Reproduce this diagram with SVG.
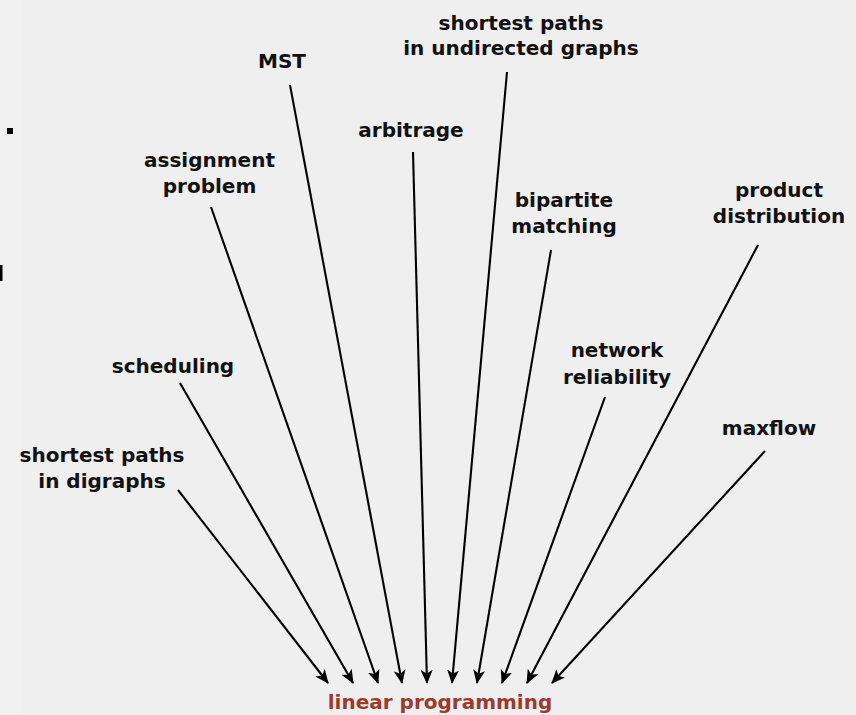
<svg xmlns="http://www.w3.org/2000/svg" width="856" height="715" viewBox="0 0 856 715">
<defs>
<style>
.lbl{font-family:"DejaVu Sans","Liberation Sans",sans-serif;font-weight:bold;font-size:20px;fill:#111;text-anchor:middle}
.lp{font-family:"DejaVu Sans","Liberation Sans",sans-serif;font-weight:bold;font-size:20px;fill:#a0392b;text-anchor:middle}
.edge{stroke:#000;stroke-width:2.1;fill:none;marker-end:url(#ah)}
</style>
<marker id="ah" markerUnits="userSpaceOnUse" viewBox="0 0 14 12" refX="13" refY="6" markerWidth="14" markerHeight="12" orient="auto">
<path d="M0,0 L14,6 L0,12 L3.5,6 z" fill="#000"/>
</marker>
</defs>
<rect width="856" height="715" fill="#efefef"/>
<rect width="22" height="715" fill="#f1f1f1"/>
<rect x="7" y="128" width="6" height="6" fill="#000"/>
<rect x="0" y="265" width="2.5" height="16" fill="#000"/>
<g id="connectors">
<line class="edge" x1="178" y1="490" x2="328" y2="683"/>
<line class="edge" x1="180" y1="383" x2="353" y2="683"/>
<line class="edge" x1="211" y1="207" x2="378" y2="683"/>
<line class="edge" x1="290" y1="85" x2="402" y2="683"/>
<line class="edge" x1="413" y1="152" x2="427" y2="683"/>
<line class="edge" x1="507" y1="72" x2="452" y2="683"/>
<line class="edge" x1="551" y1="250" x2="477" y2="683"/>
<line class="edge" x1="605" y1="397" x2="502" y2="683"/>
<line class="edge" x1="758" y1="245" x2="527" y2="683"/>
<line class="edge" x1="765" y1="451" x2="552" y2="683"/>
</g>
<g id="n-sp-digraphs"><text class="lbl" x="102" y="462">shortest paths</text><text class="lbl" x="102" y="488">in digraphs</text></g>
<g id="n-scheduling"><text class="lbl" x="173" y="373">scheduling</text></g>
<g id="n-assignment"><text class="lbl" x="209.5" y="167">assignment</text><text class="lbl" x="209.5" y="193">problem</text></g>
<g id="n-mst"><text class="lbl" x="282" y="68">MST</text></g>
<g id="n-arbitrage"><text class="lbl" x="411" y="137">arbitrage</text></g>
<g id="n-sp-undirected"><text class="lbl" x="521" y="30">shortest paths</text><text class="lbl" x="521" y="55">in undirected graphs</text></g>
<g id="n-bipartite"><text class="lbl" x="564" y="207">bipartite</text><text class="lbl" x="564" y="233">matching</text></g>
<g id="n-network"><text class="lbl" x="617" y="357">network</text><text class="lbl" x="617" y="384">reliability</text></g>
<g id="n-product"><text class="lbl" x="779" y="197">product</text><text class="lbl" x="779" y="223">distribution</text></g>
<g id="n-maxflow"><text class="lbl" x="769" y="435">maxflow</text></g>
<g id="n-lp"><text class="lp" x="440" y="709">linear programming</text></g>
</svg>
